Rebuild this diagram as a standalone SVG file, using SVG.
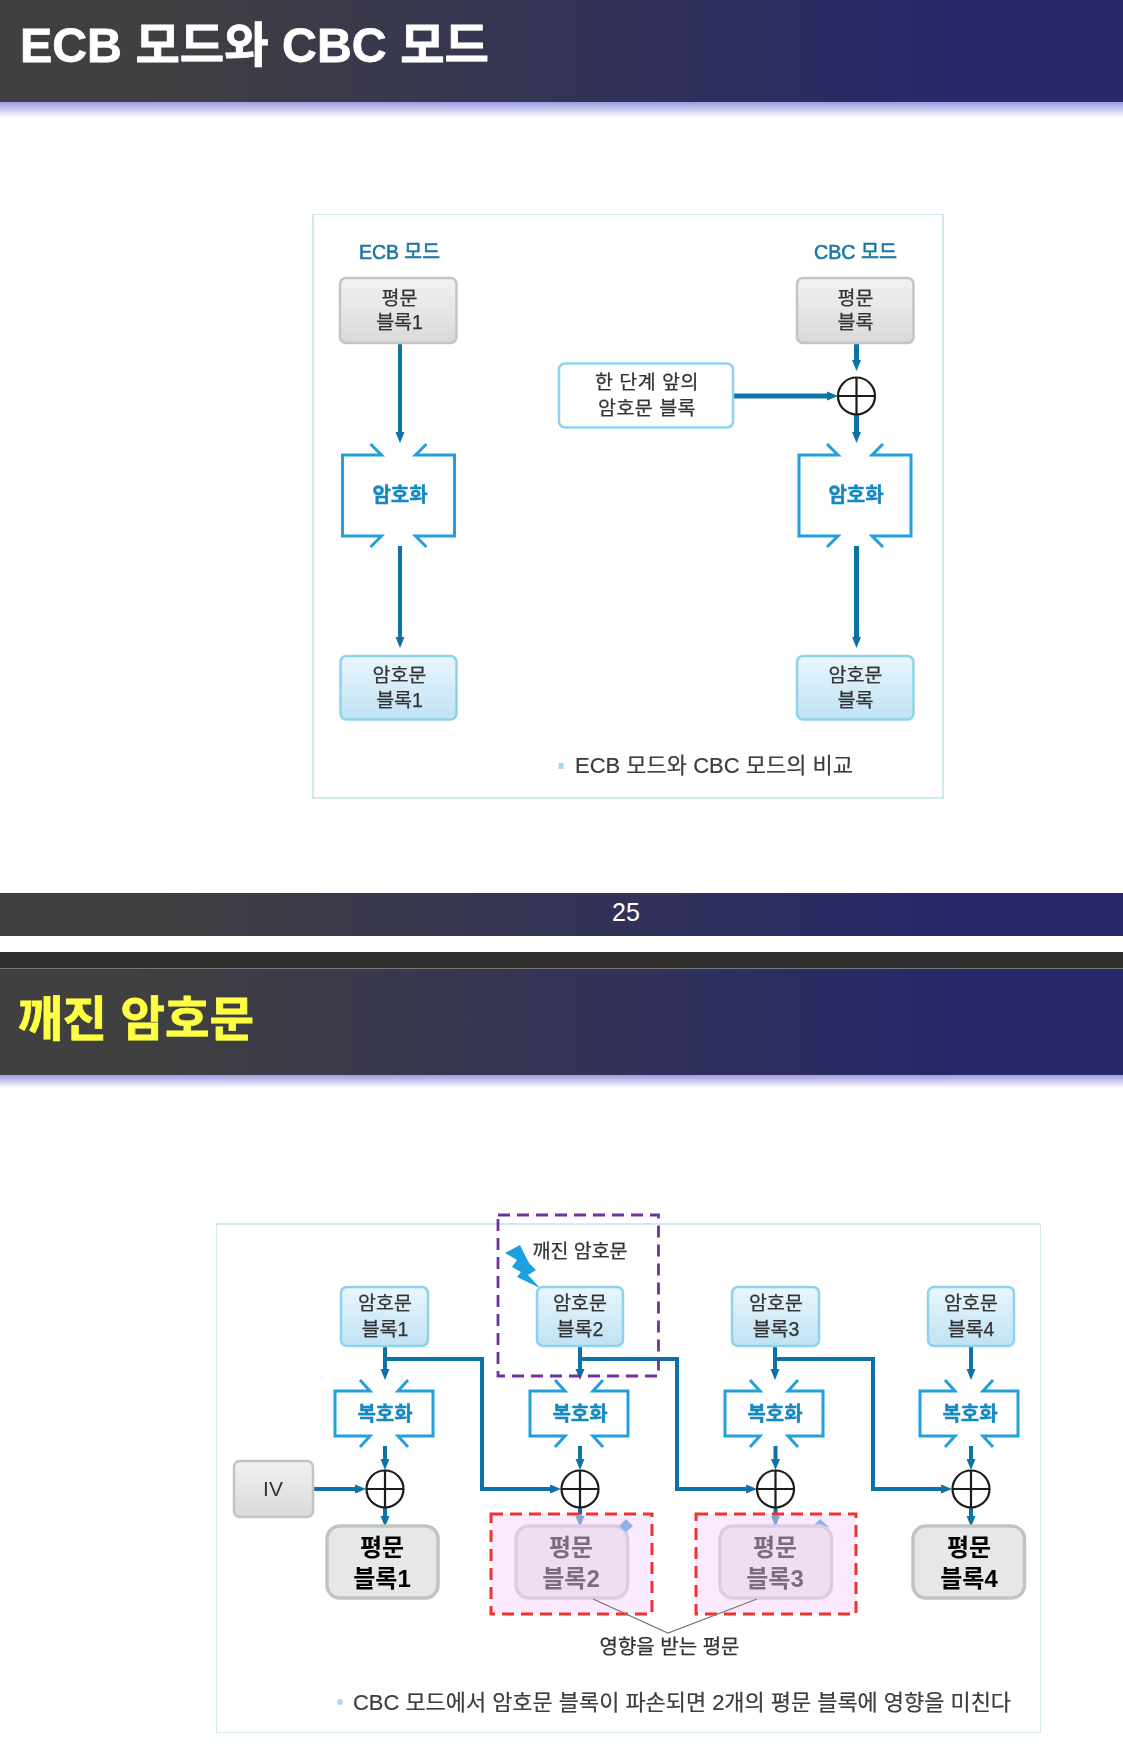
<svg xmlns="http://www.w3.org/2000/svg" width="1123" height="1757" viewBox="0 0 1123 1757">
<style>
text{font-family:"Liberation Sans","Noto Sans CJK KR",sans-serif;text-anchor:middle;dominant-baseline:central;fill:#333}
.t{font-size:19.5px;stroke:#333;stroke-width:.25px}
.title{font-size:48px;font-weight:700;text-anchor:start;dominant-baseline:auto;stroke-width:.8px}
.op{font-size:20px;font-weight:700;fill:#1488c0;stroke:#1488c0;stroke-width:.4px}
.hd{font-size:20px;font-weight:400;fill:#1a78a8;stroke:#1a78a8;stroke-width:.6px}
.cap{font-size:22px;text-anchor:start;fill:#3c3c3c;stroke:#3c3c3c;stroke-width:.2px}
.big{font-size:24px;font-weight:700;fill:#000}
.plain{fill:url(#gPlain);stroke:#c4c4c4;stroke-width:2.5px}
.ciph{fill:url(#gCiph);stroke:#8fd2ef;stroke-width:2.5px}
.out{fill:#e6e7e9;stroke:#c2c3c4;stroke-width:3.5px}
.br{fill:none;stroke:#22a0dc;stroke-width:3px}
.cn{fill:none;stroke:#0d72a6;stroke-width:4px;marker-end:url(#ah)}
.xor{fill:#fff;stroke:#1c1c1c;stroke-width:2.2px}
.frame{fill:#fff;stroke:#c2e2ea;stroke-width:1.5px}
.red{fill:#f5d5fb;fill-opacity:.5;stroke:#ee3030;stroke-width:3px;stroke-dasharray:12 7}
</style>
<defs>
<filter id="soft" x="0" y="0" width="1" height="1"><feGaussianBlur stdDeviation="0.4"/></filter>
<linearGradient id="gBar" x1="0" x2="1" y1="0" y2="0"><stop offset="0" stop-color="#404040"/><stop offset=".12" stop-color="#404040"/><stop offset=".85" stop-color="#28286a"/><stop offset="1" stop-color="#28286a"/></linearGradient>
<linearGradient id="gFade" x1="0" x2="0" y1="0" y2="1"><stop offset="0" stop-color="#9c9ce2"/><stop offset="1" stop-color="#fff"/></linearGradient>
<linearGradient id="gPlain" x1="0" x2="0" y1="0" y2="1"><stop offset="0" stop-color="#f2f2f2"/><stop offset="1" stop-color="#d8d9da"/></linearGradient>
<linearGradient id="gCiph" x1="0" x2="0" y1="0" y2="1"><stop offset="0" stop-color="#eaf6fc"/><stop offset="1" stop-color="#bfe2f4"/></linearGradient>
<marker id="ah" markerUnits="userSpaceOnUse" markerWidth="11" markerHeight="10" viewBox="0 0 11 10" refX="0" refY="5" orient="auto"><path d="M0 0.5L11 5L0 9.5Z" fill="#0d72a6"/></marker>
<path id="bk" class="br" d="M-24 -11L-14 0H-49V45H-14L-24 56M24 -11L14 0H49V45H14L24 56"/>
<path id="bkL" class="br" d="M-28 -11L-17 0H-56V81H-17L-28 92M28 -11L17 0H56V81H17L28 92"/>
<g id="x"><circle class="xor" r="18.5"/><path class="xor" d="M-18.5 0H18.5M0 -18.5V18.5"/></g>
</defs>

<g id="slide1-header">
<rect width="1123" height="102" fill="url(#gBar)"/>
<rect y="102" width="1123" height="16" fill="url(#gFade)"/>
<text class="title" x="20" y="62" style="fill:#fff;stroke:#fff" textLength="469" lengthAdjust="spacingAndGlyphs">ECB 모드와 CBC 모드</text>
</g>
<g id="slide1-footer">
<rect y="893" width="1123" height="43" fill="url(#gBar)"/>
<text x="626" y="912" style="fill:#fff;font-size:25px">25</text>
</g>
<g id="slide2-header">
<rect y="952" width="1123" height="16" fill="#2f2f2f"/>
<rect y="968" width="1123" height="1" fill="#777"/>
<rect y="969" width="1123" height="106" fill="url(#gBar)"/>
<rect y="1075" width="1123" height="13" fill="url(#gFade)"/>
<text class="title" x="18" y="1036" style="fill:#ffff44;stroke:#ffff44" textLength="236" lengthAdjust="spacingAndGlyphs">깨진 암호문</text>
</g>

<g filter="url(#soft)">
<rect class="frame" x="313" y="214" width="630" height="584"/>
<rect class="frame" x="216" y="1224" width="825" height="509"/>

<g id="connectors">
<path class="cn" d="M400 343V432"/>
<path class="cn" d="M400 546V637"/>
<path class="cn" style="stroke-width:5px" d="M856.500 343V360" />
<path class="cn" style="stroke-width:5px" d="M733 396H827"/>
<path class="cn" style="stroke-width:5px" d="M856.500 414V432"/>
<path class="cn" style="stroke-width:5px" d="M856.500 546V637"/>
<path class="cn" d="M385 1346V1369"/>
<path class="cn" d="M580 1346V1369"/>
<path class="cn" d="M775 1346V1369"/>
<path class="cn" d="M971 1346V1369"/>
<path class="cn" d="M385 1446V1459"/>
<path class="cn" d="M580 1446V1459"/>
<path class="cn" d="M775.500 1446V1459"/>
<path class="cn" d="M971 1446V1459"/>
<path class="cn" d="M313 1489H355"/>
<path class="cn" d="M385 1359H482V1489H550"/>
<path class="cn" d="M580 1359H677V1489H746"/>
<path class="cn" d="M775 1359H873V1489H941"/>
<path class="cn" d="M385 1507V1516"/>
<path class="cn" d="M580 1507V1516"/>
<path class="cn" d="M775.500 1507V1516"/>
<path class="cn" d="M971 1507V1516"/>
</g>

<g id="ecb-title"><text class="hd" x="399.500" y="252" textLength="81" lengthAdjust="spacingAndGlyphs">ECB 모드</text></g>
<g id="cbc-title"><text class="hd" x="855.500" y="252" textLength="83" lengthAdjust="spacingAndGlyphs">CBC 모드</text></g>
<g id="ecb-plain"><rect class="plain" x="340" y="278" width="116.500" height="65" rx="6"/><text class="t" x="399.500" y="297.500">평문</text><text class="t" x="399.500" y="321.500">블록1</text></g>
<g id="ecb-enc"><use href="#bkL" x="398.500" y="455"/><text class="op" x="400" y="495">암호화</text></g>
<g id="ecb-cipher"><rect class="ciph" x="340.500" y="656" width="116" height="63.500" rx="6"/><text class="t" x="399.500" y="674.500">암호문</text><text class="t" x="399.500" y="699.500">블록1</text></g>
<g id="cbc-plain"><rect class="plain" x="797" y="278" width="116.500" height="65" rx="6"/><text class="t" x="855.500" y="297.500">평문</text><text class="t" x="855.500" y="321.500">블록</text></g>
<g id="cbc-prev"><rect x="559" y="363.500" width="174" height="64" rx="6" fill="#fff" stroke="#8fd2ef" stroke-width="2.500"/><text class="t" x="647" y="382" style="letter-spacing:.5px">한 단계 앞의</text><text class="t" x="647" y="408" style="letter-spacing:.5px">암호문 블록</text></g>
<g id="cbc-xor"><use href="#x" x="856.500" y="396"/></g>
<g id="cbc-enc"><use href="#bkL" x="855" y="455"/><text class="op" x="856" y="495">암호화</text></g>
<g id="cbc-cipher"><rect class="ciph" x="797" y="656" width="116.500" height="63.500" rx="6"/><text class="t" x="855.500" y="674.500">암호문</text><text class="t" x="855.500" y="699.500">블록</text></g>
<g id="caption1"><rect x="558.500" y="763" width="5" height="6" fill="#a8d8f0"/><text class="cap" x="575" y="765" textLength="278" lengthAdjust="spacingAndGlyphs">ECB 모드와 CBC 모드의 비교</text></g>

<g id="broken-label"><text class="t" x="580" y="1251">깨진 암호문</text>
<polygon points="505,1253 520,1245 529,1263 536,1270 528,1275 540,1288 517,1277 521,1272 512,1267 517,1260" fill="#1aa0e0"/></g>
<g id="c1"><rect class="ciph" x="341" y="1287" width="87" height="59" rx="6"/><text class="t" x="385" y="1303">암호문</text><text class="t" x="385" y="1329">블록1</text></g>
<g id="c2"><rect class="ciph" x="537" y="1287" width="86" height="59" rx="6"/><text class="t" x="580" y="1303">암호문</text><text class="t" x="580" y="1329">블록2</text></g>
<g id="c3"><rect class="ciph" x="732" y="1287" width="87" height="59" rx="6"/><text class="t" x="776" y="1303">암호문</text><text class="t" x="776" y="1329">블록3</text></g>
<g id="c4"><rect class="ciph" x="928" y="1287" width="86" height="59" rx="6"/><text class="t" x="971" y="1303">암호문</text><text class="t" x="971" y="1329">블록4</text></g>
<g id="d1"><use href="#bk" x="384" y="1391"/><text class="op" x="385" y="1413.500">복호화</text></g>
<g id="d2"><use href="#bk" x="579" y="1391"/><text class="op" x="580" y="1413.500">복호화</text></g>
<g id="d3"><use href="#bk" x="774" y="1391"/><text class="op" x="775" y="1413.500">복호화</text></g>
<g id="d4"><use href="#bk" x="969" y="1391"/><text class="op" x="970" y="1413.500">복호화</text></g>
<g id="iv"><rect class="plain" x="234" y="1461" width="79" height="56" rx="6"/><text x="273" y="1488" style="font-size:21px">IV</text></g>
<g id="x1"><use href="#x" x="385" y="1489"/></g>
<g id="x2"><use href="#x" x="580" y="1489"/></g>
<g id="x3"><use href="#x" x="775.500" y="1489"/></g>
<g id="x4"><use href="#x" x="971" y="1489"/></g>
<polygon points="820,1519 829,1527 812,1527" fill="#2090e0"/>
<g id="p1"><rect class="out" x="327" y="1526" width="111" height="72" rx="13"/><text class="big" x="382" y="1547">평문</text><text class="big" x="382" y="1578">블록1</text></g>
<g id="p2"><rect class="out" x="516" y="1526" width="111.500" height="72" rx="13"/><text class="big" x="571" y="1547">평문</text><text class="big" x="571" y="1578">블록2</text></g>
<g id="p3"><rect class="out" x="720" y="1526" width="111.500" height="72" rx="13"/><text class="big" x="775" y="1547">평문</text><text class="big" x="775" y="1578">블록3</text></g>
<g id="p4"><rect class="out" x="913" y="1526" width="111.500" height="72" rx="13"/><text class="big" x="969" y="1547">평문</text><text class="big" x="969" y="1578">블록4</text></g>
<polygon points="626,1519 633,1526 626,1532 619,1526" fill="#2090e0"/>
<g id="affected-a"><rect class="red" x="491" y="1514" width="161" height="100"/></g>
<g id="affected-b"><rect class="red" x="696" y="1514" width="160" height="100"/></g>
<g id="broken-box"><rect x="498" y="1215" width="160.500" height="161" fill="none" stroke="#7030a0" stroke-width="2.800" stroke-dasharray="12 7"/></g>
<g id="callout"><path d="M593 1599L668 1633L757 1599" fill="none" stroke="#777" stroke-width="1.200"/><text class="t" x="669.500" y="1647" style="font-size:20px">영향을 받는 평문</text></g>
<g id="caption2"><circle cx="340" cy="1702" r="3" fill="#a8dcf2"/><text class="cap" x="353" y="1702" textLength="658" lengthAdjust="spacingAndGlyphs">CBC 모드에서 암호문 블록이 파손되면 2개의 평문 블록에 영향을 미친다</text></g>
</g>
</svg>
